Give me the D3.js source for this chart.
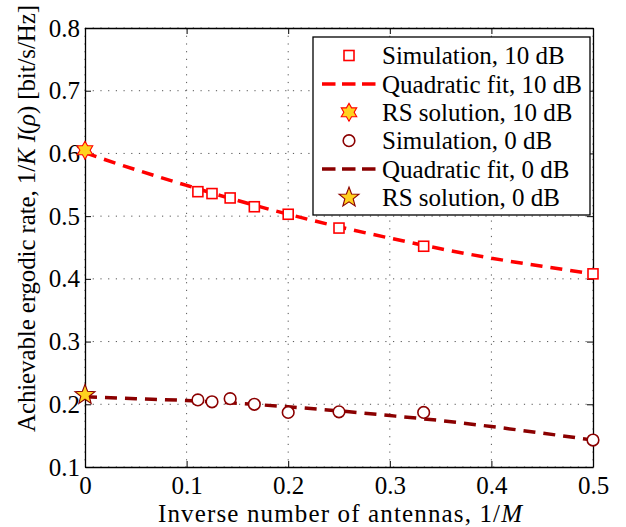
<!DOCTYPE html>
<html>
<head>
<meta charset="utf-8">
<script src="https://cdn.jsdelivr.net/npm/d3@7/dist/d3.min.js"></script>
<style>
  body { margin: 0; background: #fff; }
  text { font-family: "Liberation Serif", "Times New Roman", serif; fill: #000; }
</style>
</head>
<body>
<svg id="chart" width="626" height="527"></svg>
<script>
// data
var invM = [1/9, 1/8, 1/7, 1/6, 1/5, 1/4, 1/3, 1/2];
var sim10 = [0.539, 0.536, 0.529, 0.515, 0.503, 0.481, 0.452, 0.408];
var sim0 = [0.207, 0.204, 0.209, 0.200, 0.187, 0.188, 0.187, 0.143];
var fitX = [0, 0.05, 0.1, 0.15, 0.2, 0.25, 0.3, 0.35, 0.4, 0.45, 0.5];
var fit10 = [0.601, 0.574, 0.549, 0.525, 0.503, 0.483, 0.465, 0.448, 0.433, 0.420, 0.408];
var fit0 = [0.212, 0.209, 0.206, 0.2015, 0.196, 0.1895, 0.182, 0.174, 0.1645, 0.154, 0.143];
var rs10 = 0.605;
var rs0 = 0.215;
var xTicks = [0, 0.1, 0.2, 0.3, 0.4, 0.5];
var yTicks = [0.1, 0.2, 0.3, 0.4, 0.5, 0.6, 0.7, 0.8];
var legendLabels = ['Simulation, 10 dB', 'Quadratic fit, 10 dB', 'RS solution, 10 dB',
                    'Simulation, 0 dB', 'Quadratic fit, 0 dB', 'RS solution, 0 dB'];

var red = '#ff0000', dark = '#8b0000', gold = '#ffd21f';

var svg = d3.select('#chart');
var margin = {top: 28, right: 33, bottom: 60, left: 85};
var W = 626 - margin.left - margin.right;
var H = 527 - margin.top - margin.bottom;
var g = svg.append('g').attr('transform', 'translate(' + margin.left + ',' + margin.top + ')');

var x = d3.scaleLinear().domain([0, 0.5]).range([0, W]);
var y = d3.scaleLinear().domain([0.1, 0.8]).range([H, 0]);

// star shaped symbol types
function starType(n, ratio) {
  return {
    draw: function(ctx, size) {
      var R = Math.sqrt(size);
      var r = R * ratio;
      for (var i = 0; i < 2 * n; i++) {
        var a = -Math.PI / 2 + i * Math.PI / n;
        var rad = i % 2 ? r : R;
        if (i === 0) ctx.moveTo(rad * Math.cos(a), rad * Math.sin(a));
        else ctx.lineTo(rad * Math.cos(a), rad * Math.sin(a));
      }
      ctx.closePath();
    }
  };
}
var hexagram = d3.symbol().type(starType(6, 1 / Math.sqrt(3))).size(80);
var pentagram = d3.symbol().type(starType(5, 0.42)).size(110);

// grid
g.append('g').selectAll('line').data(xTicks).enter().append('line')
  .attr('x1', function(d) { return x(d); }).attr('x2', function(d) { return x(d); })
  .attr('y1', 0).attr('y2', H)
  .attr('stroke', '#555').attr('stroke-width', 1).attr('stroke-dasharray', '1.2,6.5');
g.append('g').selectAll('line').data(yTicks).enter().append('line')
  .attr('y1', function(d) { return y(d); }).attr('y2', function(d) { return y(d); })
  .attr('x1', 0).attr('x2', W)
  .attr('stroke', '#555').attr('stroke-width', 1).attr('stroke-dasharray', '1.2,6.5');

// axes, ticks pointing inward on all four sides
var fmt = function(d) { return d === 0 ? '0' : d3.format('.1f')(d); };
var axB = g.append('g').attr('transform', 'translate(0,' + H + ')')
  .call(d3.axisBottom(x).tickValues(xTicks).tickSizeInner(-6).tickSizeOuter(0).tickPadding(9).tickFormat(fmt));
var axL = g.append('g')
  .call(d3.axisLeft(y).tickValues(yTicks).tickSizeInner(-6).tickSizeOuter(0).tickPadding(5).tickFormat(fmt));
var axT = g.append('g')
  .call(d3.axisTop(x).tickValues(xTicks).tickSizeInner(-6).tickSizeOuter(0).tickFormat(''));
var axR = g.append('g').attr('transform', 'translate(' + W + ',0)')
  .call(d3.axisRight(y).tickValues(yTicks).tickSizeInner(-6).tickSizeOuter(0).tickFormat(''));
[axB, axL, axT, axR].forEach(function(a) {
  a.attr('font-family', null);
  a.select('.domain').attr('stroke', '#000').attr('stroke-width', 1.3);
  a.selectAll('.tick line').attr('stroke', '#000');
  a.selectAll('text').style('font-size', '25px');
});

// fit lines
var line = d3.line().x(function(d) { return x(d[0]); }).y(function(d) { return y(d[1]); }).curve(d3.curveMonotoneX);
g.append('path').datum(d3.zip(fitX, fit10)).attr('d', line)
  .attr('fill', 'none').attr('stroke', red).attr('stroke-width', 3.5).attr('stroke-dasharray', '12,8');
g.append('path').datum(d3.zip(fitX, fit0)).attr('d', line)
  .attr('fill', 'none').attr('stroke', dark).attr('stroke-width', 3.5).attr('stroke-dasharray', '12,8');

// simulation markers
g.append('g').selectAll('rect').data(d3.zip(invM, sim10)).enter().append('rect')
  .attr('x', function(d) { return x(d[0]) - 5; }).attr('y', function(d) { return y(d[1]) - 5; })
  .attr('width', 10).attr('height', 10)
  .attr('fill', '#fff').attr('stroke', red).attr('stroke-width', 1.6);
g.append('g').selectAll('circle').data(d3.zip(invM, sim0)).enter().append('circle')
  .attr('cx', function(d) { return x(d[0]); }).attr('cy', function(d) { return y(d[1]); })
  .attr('r', 5.8)
  .attr('fill', '#fff').attr('stroke', dark).attr('stroke-width', 1.6);

// RS solutions
g.append('path').attr('d', hexagram())
  .attr('transform', 'translate(' + x(0) + ',' + y(rs10) + ')')
  .attr('fill', gold).attr('stroke', red).attr('stroke-width', 1.1);
g.append('path').attr('d', pentagram())
  .attr('transform', 'translate(' + x(0) + ',' + y(rs0) + ')')
  .attr('fill', gold).attr('stroke', dark).attr('stroke-width', 1.1);

// axis labels
svg.append('text').attr('x', 340).attr('y', 522)
  .attr('text-anchor', 'middle').style('font-size', '25px')
  .attr('textLength', 364).attr('lengthAdjust', 'spacing')
  .html('Inverse number of antennas, 1/<tspan font-style="italic">M</tspan>');
svg.append('text').attr('transform', 'translate(35,218.5) rotate(-90)')
  .attr('text-anchor', 'middle').style('font-size', '25px')
  .attr('textLength', 427).attr('lengthAdjust', 'spacing')
  .html('Achievable ergodic rate, 1/<tspan font-style="italic">K</tspan> <tspan font-style="italic">I</tspan>(<tspan font-style="italic">ρ</tspan>) [bit/s/Hz]');

// legend
var lg = svg.append('g');
lg.append('rect').attr('x', 313).attr('y', 37).attr('width', 277).attr('height', 178)
  .attr('fill', '#fff').attr('stroke', '#000').attr('stroke-width', 1.3);
var rows = lg.selectAll('g.row').data(legendLabels).enter().append('g')
  .attr('transform', function(d, i) { return 'translate(0,' + (55.5 + i * 28.4) + ')'; });
rows.append('text').attr('x', 382).attr('dy', '0.35em').style('font-size', '25px').text(function(d) { return d; });
rows.each(function(d, i) {
  var r = d3.select(this);
  if (i === 0) r.append('rect').attr('x', 344).attr('y', -5).attr('width', 10).attr('height', 10)
    .attr('fill', '#fff').attr('stroke', red).attr('stroke-width', 1.6);
  if (i === 3) r.append('circle').attr('cx', 349).attr('r', 5.8)
    .attr('fill', '#fff').attr('stroke', dark).attr('stroke-width', 1.6);
  if (i === 1 || i === 4) r.append('line').attr('x1', 322).attr('x2', 376)
    .attr('stroke', i === 1 ? red : dark).attr('stroke-width', 3.5).attr('stroke-dasharray', '13.5,6.5');
  if (i === 2) r.append('path').attr('d', hexagram()).attr('transform', 'translate(349,0)')
    .attr('fill', gold).attr('stroke', red).attr('stroke-width', 1.1);
  if (i === 5) r.append('path').attr('d', pentagram()).attr('transform', 'translate(349,0)')
    .attr('fill', gold).attr('stroke', dark).attr('stroke-width', 1.1);
});
</script>
</body>
</html>
